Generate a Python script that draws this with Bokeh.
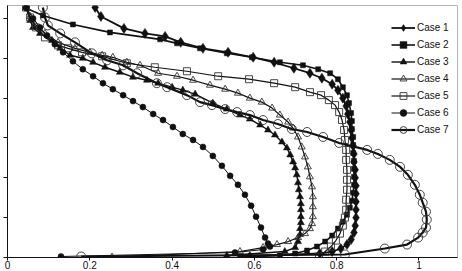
import numpy as np
from bokeh.plotting import figure
from bokeh.models import Range1d, Legend, LegendItem, FixedTicker
from bokeh.embed import file_html
from bokeh.resources import INLINE

# ---------------- data ----------------
x_ticks = [0, 0.2, 0.4, 0.6, 0.8, 1.0]
x_tick_labels = ["0", "0.2", "0.4", "0.6", "0.8", "1"]
y_ticks = [0, 1, 2, 3, 4, 5, 6]

case1_x = [0.213, 0.227, 0.283, 0.334, 0.383, 0.421, 0.475, 0.536, 0.597, 0.648,
           0.696, 0.735, 0.764, 0.789, 0.803, 0.815, 0.823, 0.827, 0.832, 0.835,
           0.837, 0.840, 0.842, 0.842, 0.845, 0.845, 0.847, 0.847, 0.847, 0.847,
           0.847, 0.845, 0.842, 0.835, 0.825, 0.810, 0.789, 0.759, 0.589]
case1_y = [6.275, 6.05, 5.75, 5.625, 5.55, 5.4, 5.25, 5.15, 5.025, 4.9,
           4.75, 4.625, 4.5, 4.35, 4.2, 4.0, 3.8, 3.6, 3.4, 3.2,
           3.0, 2.8, 2.6, 2.4, 2.2, 2.0, 1.8, 1.6, 1.4, 1.2,
           1.0, 0.8, 0.625, 0.45, 0.325, 0.225, 0.15, 0.1, 0.025]

case2_x = [0.047, 0.086, 0.159, 0.249, 0.371, 0.412, 0.468, 0.533, 0.594, 0.662,
           0.718, 0.755, 0.784, 0.803, 0.815, 0.825, 0.830, 0.835, 0.837, 0.837,
           0.840, 0.840, 0.840, 0.842, 0.842, 0.842, 0.842, 0.840, 0.837, 0.832,
           0.825, 0.815, 0.803, 0.789, 0.772, 0.752, 0.728, 0.699, 0.662, 0.565]
case2_y = [6.25, 6.075, 5.85, 5.65, 5.475, 5.375, 5.25, 5.125, 5.025, 4.9,
           4.825, 4.725, 4.625, 4.475, 4.275, 4.075, 3.875, 3.625, 3.425, 3.225,
           3.025, 2.825, 2.625, 2.425, 2.225, 2.025, 1.825, 1.625, 1.425, 1.25,
           1.075, 0.9, 0.725, 0.55, 0.4, 0.275, 0.175, 0.1, 0.05, 0.025]

case3_x = [0.045, 0.055, 0.062, 0.079, 0.108, 0.128, 0.152, 0.183, 0.208, 0.237,
           0.273, 0.305, 0.339, 0.366, 0.400, 0.426, 0.456, 0.499, 0.533, 0.565,
           0.589, 0.614, 0.633, 0.650, 0.667, 0.679, 0.687, 0.694, 0.699, 0.703,
           0.706, 0.708, 0.711, 0.713, 0.713, 0.713, 0.713, 0.711, 0.711, 0.706,
           0.699, 0.674, 0.533]
case3_y = [6.275, 5.95, 5.775, 5.625, 5.45, 5.25, 5.075, 5.0, 4.9, 4.775,
           4.65, 4.525, 4.45, 4.375, 4.275, 4.2, 4.1, 3.875, 3.725, 3.575,
           3.475, 3.325, 3.2, 3.075, 2.9, 2.75, 2.575, 2.4, 2.25, 2.075,
           1.875, 1.7, 1.525, 1.35, 1.2, 1.025, 0.875, 0.725, 0.575, 0.4,
           0.25, 0.15, 0.05]

case4_x = [0.045, 0.055, 0.067, 0.091, 0.123, 0.164, 0.200, 0.230, 0.256, 0.290,
           0.322, 0.366, 0.412, 0.451, 0.492, 0.529, 0.560, 0.589, 0.618, 0.643,
           0.662, 0.682, 0.694, 0.706, 0.715, 0.723, 0.730, 0.735, 0.740, 0.742,
           0.742, 0.742, 0.740, 0.735, 0.723, 0.706, 0.682, 0.655, 0.621, 0.565,
           0.254]
case4_y = [6.275, 6.05, 5.85, 5.625, 5.4, 5.25, 5.15, 5.075, 5.025, 4.9,
           4.825, 4.625, 4.55, 4.45, 4.325, 4.225, 4.125, 4.0, 3.9, 3.75,
           3.575, 3.4, 3.25, 3.025, 2.775, 2.525, 2.275, 2.025, 1.775, 1.525,
           1.275, 1.025, 0.85, 0.725, 0.6, 0.5, 0.4, 0.325, 0.25, 0.15,
           0.01]

case5_x = [0.045, 0.055, 0.069, 0.091, 0.123, 0.147, 0.181, 0.230, 0.290, 0.358,
           0.436, 0.512, 0.587, 0.648, 0.699, 0.735, 0.762, 0.781, 0.796, 0.806,
           0.813, 0.818, 0.820, 0.823, 0.823, 0.825, 0.825, 0.825, 0.823, 0.823,
           0.820, 0.815, 0.808, 0.798, 0.786, 0.772, 0.757]
case5_y = [6.275, 6.025, 5.775, 5.525, 5.325, 5.25, 5.15, 5.05, 4.875, 4.775,
           4.675, 4.55, 4.475, 4.375, 4.275, 4.15, 4.075, 3.95, 3.825, 3.65,
           3.45, 3.2, 2.95, 2.7, 2.45, 2.2, 1.95, 1.7, 1.45, 1.2,
           1.0, 0.8, 0.6, 0.425, 0.275, 0.15, 0.025]

case6_x = [0.045, 0.062, 0.079, 0.096, 0.115, 0.135, 0.159, 0.183, 0.208, 0.232,
           0.256, 0.281, 0.305, 0.329, 0.354, 0.378, 0.402, 0.426, 0.451, 0.475,
           0.499, 0.521, 0.541, 0.560, 0.577, 0.592, 0.604, 0.616, 0.626, 0.633,
           0.638, 0.621, 0.553, 0.130]
case6_y = [6.275, 6.0, 5.775, 5.575, 5.35, 5.15, 4.925, 4.725, 4.55, 4.375,
           4.225, 4.075, 3.925, 3.775, 3.6, 3.45, 3.275, 3.1, 2.95, 2.775,
           2.55, 2.3, 2.05, 1.825, 1.575, 1.3, 1.025, 0.75, 0.5, 0.35,
           0.275, 0.2, 0.125, 0.025]

case7_x = [0.086, 0.091, 0.098, 0.128, 0.164, 0.205, 0.242, 0.281, 0.315, 0.363,
           0.388, 0.436, 0.468, 0.497, 0.529, 0.558, 0.589, 0.621, 0.657, 0.691,
           0.728, 0.767, 0.806, 0.874, 0.900, 0.929, 0.954, 0.973, 0.990, 1.002,
           1.009, 1.017, 1.019, 1.017, 1.009, 0.998, 0.971, 0.917, 0.820, 0.179]
case7_y = [6.275, 6.025, 5.825, 5.625, 5.4, 5.125, 4.95, 4.825, 4.625, 4.375,
           4.275, 4.075, 3.9, 3.825, 3.725, 3.65, 3.575, 3.45, 3.35, 3.225,
           3.15, 3.025, 2.875, 2.7, 2.6, 2.45, 2.275, 2.075, 1.825, 1.575,
           1.375, 1.15, 0.95, 0.75, 0.625, 0.5, 0.325, 0.225, 0.075, 0.025]

series_names = ["Case 1", "Case 2", "Case 3", "Case 4", "Case 5", "Case 6", "Case 7"]
series_x = [case1_x, case2_x, case3_x, case4_x, case5_x, case6_x, case7_x]
series_y = [case1_y, case2_y, case3_y, case4_y, case5_y, case6_y, case7_y]

# ---------------- styles ----------------
# (marker, size, filled, line width)
styles = [
    ("diamond", 10, True, 1.8),
    ("square", 5, True, 1.6),
    ("triangle", 7, True, 1.4),
    ("triangle", 7, False, 1.2),
    ("square", 7, False, 1.2),
    ("circle", 6, True, 1.0),
    ("circle", 9, False, 2.2),
]

FONT = "Liberation Sans"
INK = "#111111"

p = figure(width=462, height=271,
           x_range=Range1d(0, 1.0936), y_range=Range1d(0, 6.325),
           output_backend="svg", toolbar_location=None,
           min_border_left=7, min_border_right=5, min_border_top=5, min_border_bottom=12)

p.background_fill_color = "white"
p.border_fill_color = "white"
p.outline_line_color = "#b4b4b4"
p.outline_line_width = 1
p.grid.visible = False

p.xaxis.ticker = FixedTicker(ticks=x_ticks)
p.yaxis.ticker = FixedTicker(ticks=y_ticks)
p.xaxis.major_label_overrides = {v: t for v, t in zip(x_ticks, x_tick_labels)}
p.yaxis.major_label_overrides = {v: "" for v in y_ticks}
p.xaxis.major_label_text_font = FONT
p.xaxis.major_label_text_font_size = "10px"
p.xaxis.major_label_text_color = INK
p.xaxis.major_label_standoff = 0
p.xaxis.major_tick_out = 3
p.yaxis.major_label_standoff = 0
p.yaxis.major_tick_out = 4
for ax in (p.xaxis, p.yaxis):
    ax.major_tick_in = 0
    ax.minor_tick_line_color = None
    ax.axis_line_color = INK
    ax.major_tick_line_color = INK
    ax.axis_line_width = 1

items = []
for name, xs, ys, st in zip(series_names, series_x, series_y, styles):
    marker, size, filled, lw = st
    lr = p.line(xs, ys, line_color=INK, line_width=lw)
    if filled:
        sr = p.scatter(xs, ys, marker=marker, size=size,
                       fill_color=INK, line_color=INK, line_width=0.5)
    else:
        sr = p.scatter(xs, ys, marker=marker, size=size,
                       fill_color=None, line_color="#333333", line_width=0.9)
    items.append(LegendItem(label=name, renderers=[lr, sr]))

legend = Legend(items=items, location=(384, 119), orientation="vertical",
                glyph_width=24, glyph_height=17, label_height=17, spacing=0,
                padding=0, margin=0, label_standoff=2,
                label_text_font=FONT, label_text_font_size="10px",
                label_text_color=INK,
                background_fill_alpha=0, border_line_alpha=0)
p.add_layout(legend)

open("out.html", "w").write(file_html(p, INLINE))
